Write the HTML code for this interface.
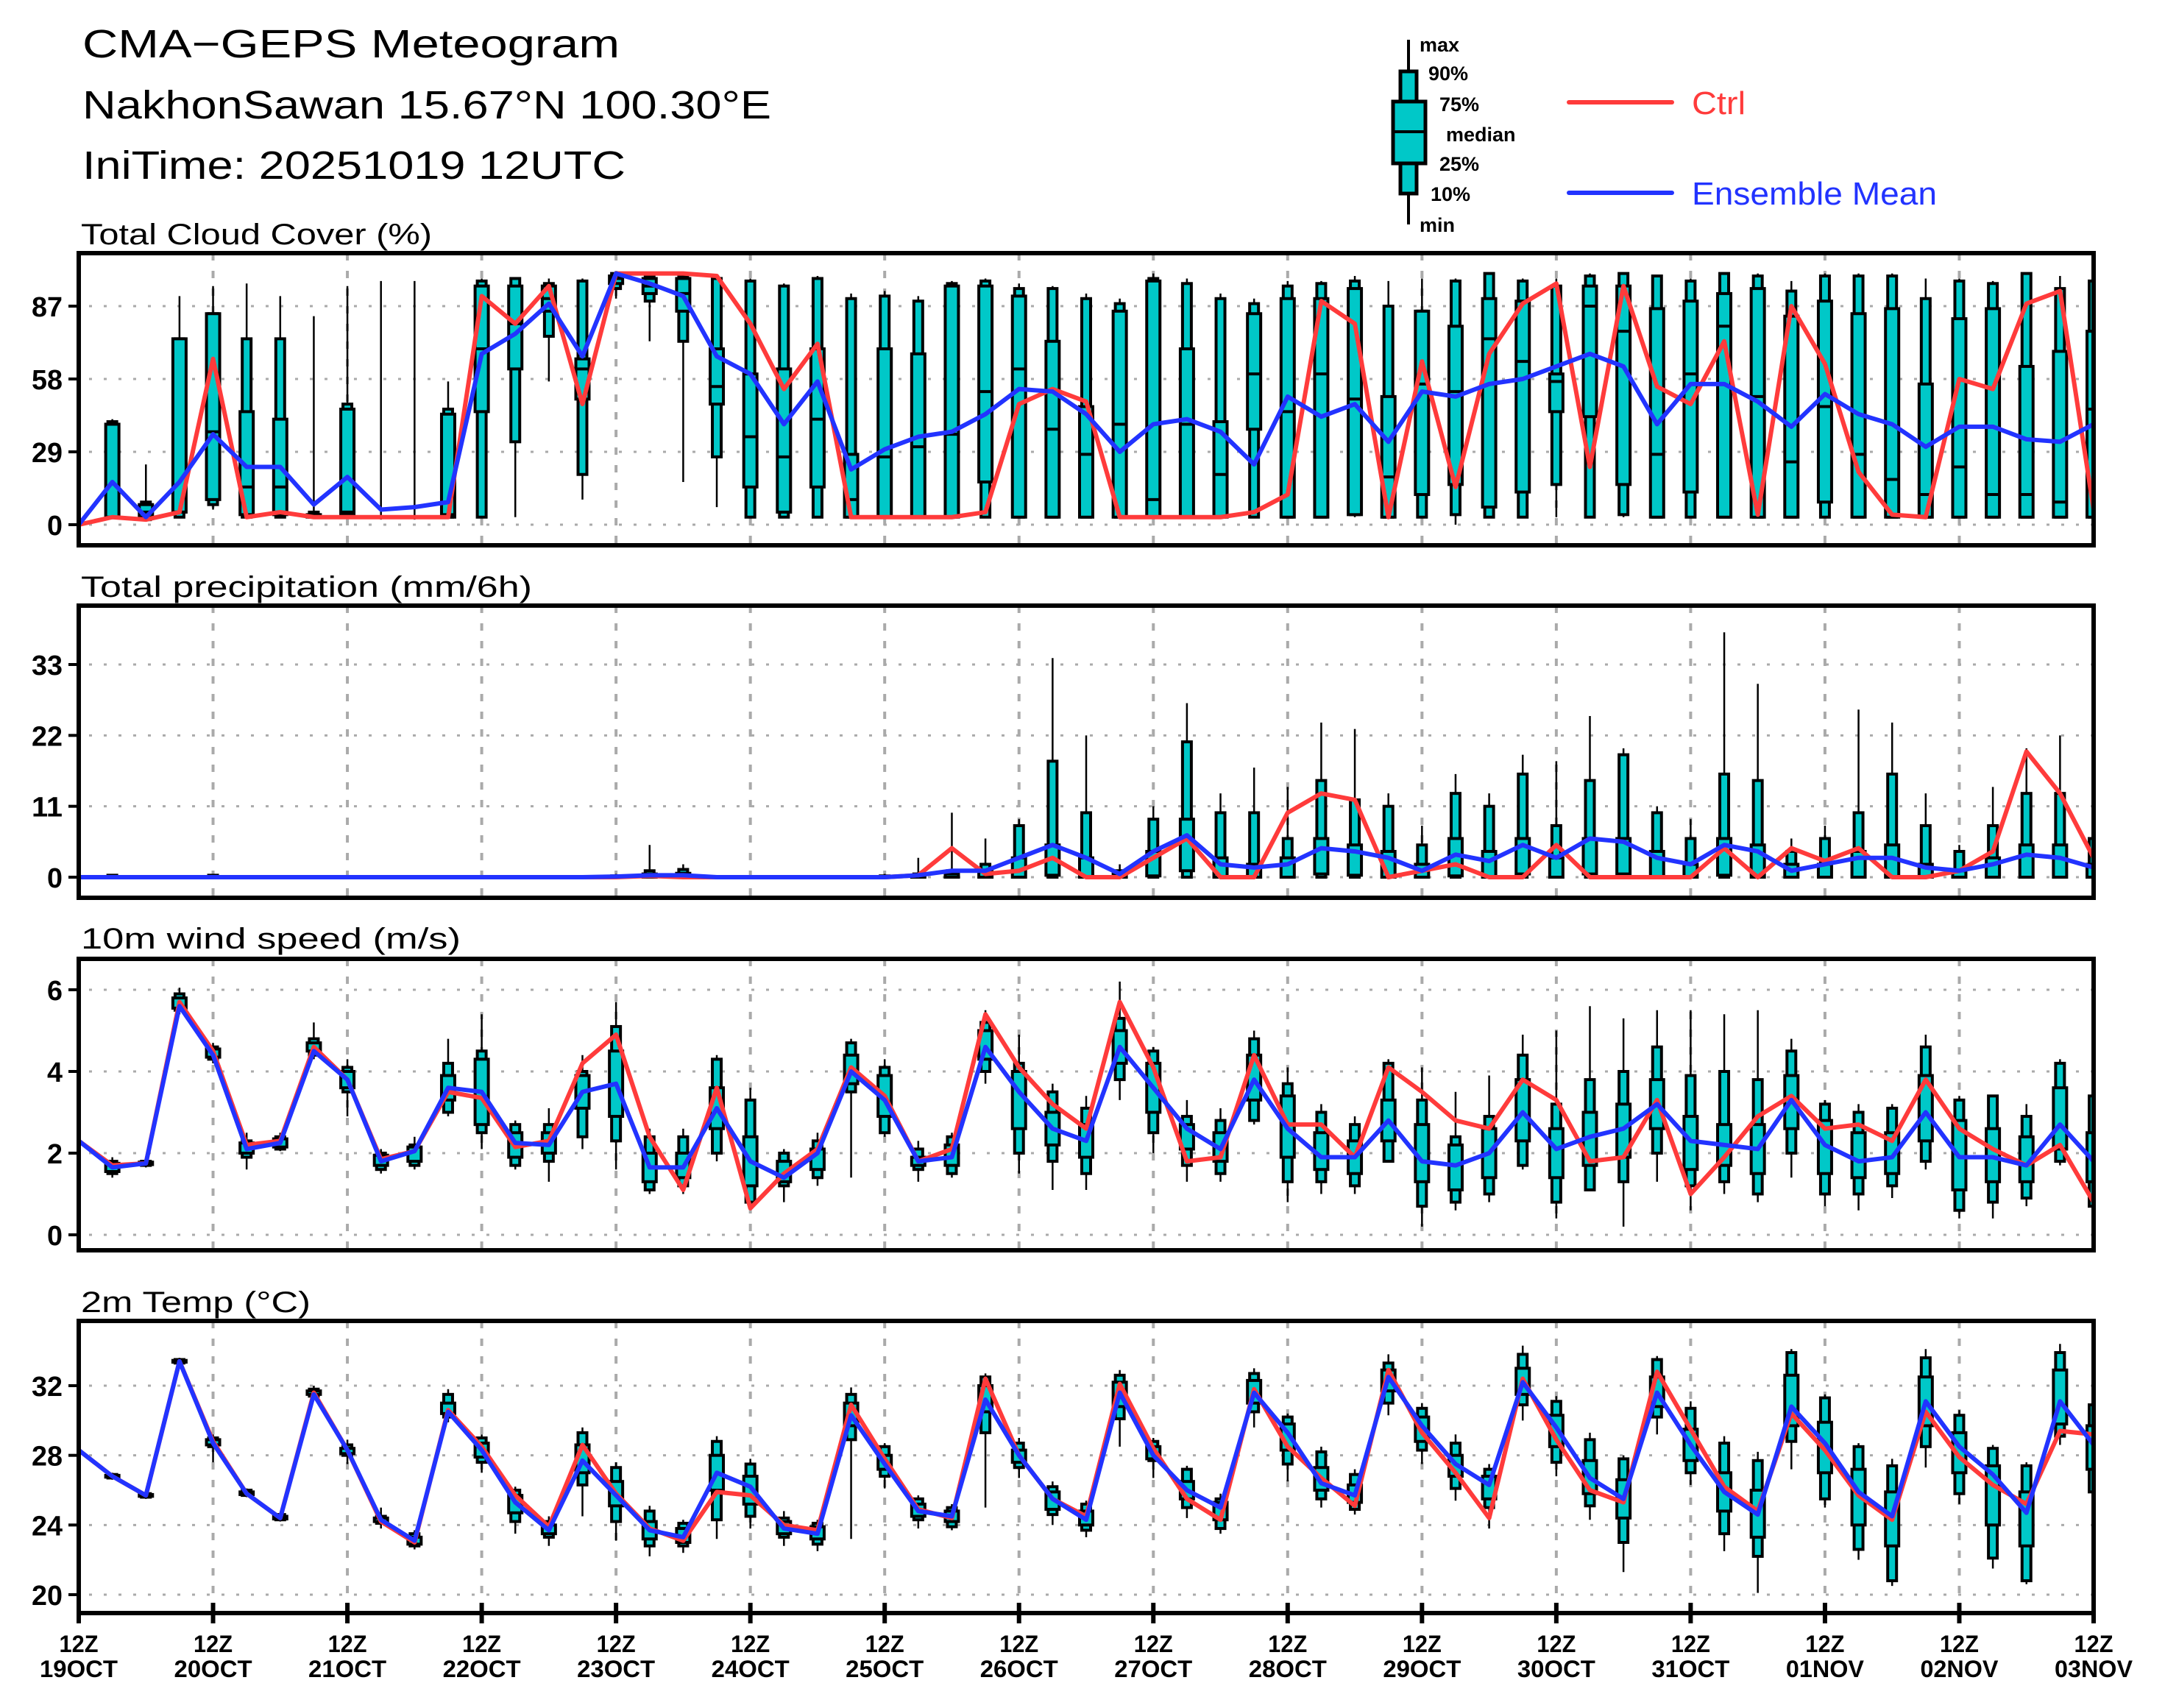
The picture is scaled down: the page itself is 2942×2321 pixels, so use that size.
<!DOCTYPE html>
<html><head><meta charset="utf-8"><title>CMA-GEPS Meteogram</title>
<style>html,body{margin:0;padding:0;background:#fff}svg{display:block}text{font-family:"Liberation Sans",sans-serif}</style>
</head><body>
<svg id="chart" xmlns="http://www.w3.org/2000/svg" width="2942" height="2321" viewBox="0 0 2942 2321">
<rect x="0" y="0" width="2942" height="2321" fill="#fff"/>
<g>
<text x="112" y="78" font-size="54" textLength="730" lengthAdjust="spacingAndGlyphs">CMA−GEPS Meteogram</text>
<text x="112" y="161" font-size="54" textLength="936" lengthAdjust="spacingAndGlyphs">NakhonSawan 15.67°N 100.30°E</text>
<text x="112" y="243" font-size="54" textLength="738" lengthAdjust="spacingAndGlyphs">IniTime: 20251019 12UTC</text>
</g>
<g>
<line x1="1914" y1="54" x2="1914" y2="305" stroke="#000" stroke-width="4"/>
<rect x="1903" y="97" width="22" height="166" fill="#00C8C8" stroke="#000" stroke-width="5"/>
<rect x="1893" y="138" width="44" height="84" fill="#00C8C8" stroke="#000" stroke-width="5"/>
<line x1="1893" y1="179" x2="1937" y2="179" stroke="#000" stroke-width="4"/>
<g font-size="27" font-weight="bold">
<text x="1929" y="70">max</text>
<text x="1941" y="109">90%</text>
<text x="1956" y="151">75%</text>
<text x="1965" y="192">median</text>
<text x="1956" y="232">25%</text>
<text x="1944" y="273">10%</text>
<text x="1929" y="315">min</text>
</g>
<line x1="2132" y1="139" x2="2272" y2="139" stroke="#FF3B3B" stroke-width="6" stroke-linecap="round"/>
<text x="2299" y="155" font-size="44" fill="#FF3B3B" textLength="73" lengthAdjust="spacingAndGlyphs">Ctrl</text>
<line x1="2132" y1="262" x2="2272" y2="262" stroke="#2233FF" stroke-width="6" stroke-linecap="round"/>
<text x="2299" y="278" font-size="44" fill="#2233FF" textLength="333" lengthAdjust="spacingAndGlyphs">Ensemble Mean</text>
</g>
<g id="plots"></g>
</svg>
<script>
const dayLabels = ["19OCT","20OCT","21OCT","22OCT","23OCT","24OCT","25OCT","26OCT","27OCT","28OCT","29OCT","30OCT","31OCT","01NOV","02NOV","03NOV"];

const cloudTicks = [0,29,58,87];
const cloudCtrl = [0,3,2,5,66,3,5,3,3,3,3,3,91,80,95,48,100,100,100,99,80,54,72,3,3,3,3,5,48,54,49,3,3,3,3,5,12,89,80,3,65,15,68,88,96,23,95,55,48,73,4,87,64,21,4,3,58,54,88,93,6];
const cloudMean = [0,17,3,17,36,23,23,8,19,6,7,9,68,76,88,67,100,96,91,67,60,40,57,22,30,35,37,44,54,53,44,29,40,42,37,24,51,43,48,33,53,51,56,58,63,68,63,40,56,56,49,39,52,44,40,31,39,39,34,33,40];
const cloudP10 = [0,3,2,3,8,3,3,3,3,3,3,3,3,33,75,20,94,89,73,27,3,3,3,3,3,3,3,3,3,3,3,3,3,3,3,3,3,3,4,3,3,4,3,3,16,3,4,3,3,3,3,3,3,3,3,3,3,3,3,3,3];
const cloudP25 = [0,3,3,5,10,4,4,3,4,3,3,3,45,62,85,50,96,92,85,48,15,5,15,3,3,3,3,17,3,3,3,3,3,3,3,38,3,3,4,3,12,16,7,13,45,43,16,3,13,3,3,3,9,3,3,3,3,3,3,3,3];
const cloudMed = [0,40,5,5,37,15,15,4,5,3,3,4,70,80,90,62,98,95,92,55,35,27,42,10,27,31,36,53,62,38,28,40,10,40,20,60,45,60,50,19,56,53,74,65,57,87,77,28,60,79,51,25,47,28,18,12,23,12,12,9,46];
const cloudP75 = [0,40,8,74,84,45,42,4,46,3,3,44,95,95,95,66,99,98,98,70,60,62,70,28,70,68,95,95,91,73,47,85,97,70,41,84,90,90,94,51,85,79,90,89,60,95,95,86,89,92,94,83,89,84,86,56,82,86,63,69,77];
const cloudP90 = [0,41,9,74,84,74,74,5,48,3,3,46,97,98,96,97,100,99,99,98,97,95,98,90,91,89,96,97,94,94,90,88,98,96,90,88,95,96,97,87,85,97,100,97,95,99,100,99,97,100,99,93,99,99,99,90,97,96,100,94,97];
const cloudMin = [0,3,2,3,6,3,3,3,3,2,2,3,3,3,57,10,90,73,17,7,3,3,3,3,3,3,3,3,3,3,3,3,3,3,3,3,3,3,3,3,3,0,3,3,3,3,3,3,3,3,3,3,3,3,3,3,3,3,3,3,3];
const cloudMax = [0,42,24,91,95,96,91,83,95,97,97,57,98,98,98,98,100,100,100,99,98,96,99,92,93,91,97,98,96,95,92,90,100,98,92,90,97,97,99,97,98,98,100,98,98,100,100,99,98,100,100,97,100,100,100,98,98,97,100,99,98];

const precTicks = [0,11,22,33];
const precCtrl = [0,0,0,0,0,0,0,0,0,0,0,0,0,0,0,0,0,0.2,0,0,0,0,0,0,0,0.3,4.5,0.5,1,3,0,0,3,6,0,0,10,13,12,0,1,2,0,0,5,0,0,0,0,4.5,0,4.5,2.5,4.5,0,0,1,4,19.5,13,3];
const precMean = [0,0,0,0,0,0,0,0,0,0,0,0,0,0,0,0,0.1,0.3,0.3,0,0,0,0,0,0,0.3,1,1,3,5,3,0.5,4,6.5,2,1.5,2,4.5,4,3,1,3.5,2.5,5,3,6,5.5,3,2,5,4,1,2,3,3,1.5,1,2,3.5,3,1.5];
const precP10 = [0,0,0,0,0,0,0,0,0,0,0,0,0,0,0,0,0,0,0,0,0,0,0,0,0,0,0,0,0,0,0,0,0,0,0,0,0,0,0,0,0,0,0,0,0,0,0,0,0,0,0,0,0,0,0,0,0,0,0,0,0];
const precP25 = [0,0,0,0,0,0,0,0,0,0,0,0,0,0,0,0,0,0,0,0,0,0,0,0,0,0,0,0,0,0.3,0,0,0.2,1,0,0,0,0.5,0.3,0,0,0.2,0,0.5,0,0.5,0.5,0,0,0.3,0,0,0,0,0,0,0,0,0,0,0];
const precP75 = [0,0.1,0,0,0.1,0,0,0,0,0,0,0,0,0,0,0,0.1,0.5,0.6,0,0,0,0,0,0.1,0.2,0.5,1,3,5,3,0.5,4,9,3,2,3,6,5,4,2,6,4,6,3,6,6,4,2,6,5,2,2,4,5,2,1,3,5,5,2];
const precP90 = [0,0.3,0,0,0.3,0,0,0,0,0,0,0,0,0,0,0,0.2,1.0,1.2,0,0,0,0,0,0.2,0.5,1,2,8,18,10,1,9,21,10,10,6,15,12,11,5,13,11,16,8,15,19,10,6,16,15,4,6,10,16,8,4,8,13,13,6];
const precMin = [0,0,0,0,0,0,0,0,0,0,0,0,0,0,0,0,0,0,0,0,0,0,0,0,0,0,0,0,0,0,0,0,0,0,0,0,0,0,0,0,0,0,0,0,0,0,0,0,0,0,0,0,0,0,0,0,0,0,0,0,0];
const precMax = [0,0.5,0,0,0.5,0,0,0,0,0,0,0,0,0,0,0,0.5,5,2,0,0,0,0,0,0.5,3,10,6,9,34,22,2,11,27,13,17,14,24,23,13,8,16,13,19,18,25,20,11,9,38,30,6,8,26,24,13,5,14,20,22,6];

const windTicks = [0,2,4,6];
const windCtrl = [2.3,1.7,1.75,5.7,4.5,2.2,2.3,4.6,3.8,1.85,2.05,3.5,3.35,2.15,2.3,4.2,4.9,2.4,1.1,3.6,0.65,1.5,2.1,4.1,3.4,1.8,2.1,5.4,4.1,3.2,2.6,5.7,4.1,1.8,1.9,4.4,2.7,2.7,1.9,4.1,3.5,2.8,2.6,3.8,3.3,1.8,1.9,3.3,1.0,1.9,2.9,3.4,2.6,2.7,2.3,3.8,2.6,2.1,1.7,2.2,0.8];
const windMean = [2.3,1.65,1.75,5.6,4.4,2.1,2.25,4.5,3.8,1.8,2.05,3.6,3.5,2.25,2.2,3.5,3.7,1.65,1.65,3.1,1.8,1.4,2.0,4.0,3.3,1.8,1.9,4.6,3.5,2.6,2.3,4.6,3.6,2.6,2.1,3.8,2.6,1.9,1.9,2.8,1.8,1.7,2.0,3.0,2.1,2.4,2.6,3.2,2.3,2.2,2.1,3.3,2.2,1.8,1.9,3.0,1.9,1.9,1.7,2.7,1.8];
const windP10 = [2.3,1.5,1.7,5.5,4.3,1.9,2.1,4.4,3.5,1.6,1.7,3.0,2.5,1.7,1.8,2.4,2.3,1.1,1.2,2.0,0.8,1.2,1.4,3.5,2.5,1.6,1.5,4.0,2.0,1.8,1.5,3.8,2.5,1.7,1.5,2.8,1.3,1.3,1.2,1.8,0.7,0.8,1.0,1.7,0.8,1.1,1.3,2.0,1.2,1.3,1.0,2.0,1.0,1.0,1.2,1.8,0.6,0.8,0.9,1.8,0.7];
const windP25 = [2.3,1.55,1.72,5.55,4.35,2.0,2.15,4.5,3.6,1.7,1.8,3.3,2.7,1.9,2.0,3.1,2.9,1.3,1.4,2.6,1.2,1.3,1.6,3.7,2.9,1.7,1.7,4.3,2.6,2.2,1.9,4.2,3.0,2.1,1.8,3.3,1.9,1.6,1.5,2.3,1.3,1.1,1.4,2.3,1.4,1.7,1.9,2.6,1.6,1.7,1.5,2.6,1.5,1.4,1.5,2.3,1.1,1.3,1.3,2.1,1.3];
const windP75 = [2.3,1.75,1.78,5.8,4.55,2.25,2.35,4.7,4.0,1.95,2.15,3.9,4.3,2.5,2.5,3.9,4.5,2.0,2.0,3.6,2.4,1.8,2.1,4.4,3.9,1.9,2.2,5.0,4.0,3.0,2.7,5.0,4.2,2.7,2.5,4.4,3.4,2.5,2.3,3.3,2.7,2.2,2.6,3.8,2.6,3.0,3.2,3.8,2.9,2.7,2.7,3.9,2.8,2.5,2.5,3.9,2.8,2.6,2.4,3.6,2.5];
const windP90 = [2.3,1.8,1.8,5.9,4.6,2.3,2.4,4.8,4.1,2.0,2.2,4.2,4.5,2.7,2.7,4.0,5.1,2.4,2.4,4.3,3.3,2.0,2.3,4.7,4.1,2.1,2.4,5.2,4.2,3.5,3.1,5.3,4.5,2.9,2.8,4.8,3.7,3.0,2.7,4.2,3.3,2.4,2.9,4.4,3.2,3.8,4.0,4.6,3.9,4.0,3.8,4.5,3.2,3.0,3.1,4.6,3.3,3.4,2.9,4.2,3.4];
const windMin = [2.3,1.4,1.65,5.4,4.2,1.6,2.05,4.3,2.9,1.5,1.6,2.9,2.1,1.6,1.3,2.1,1.6,1.0,1.0,1.8,0.7,0.8,1.2,1.4,2.4,1.3,1.4,3.7,1.5,1.1,1.1,3.3,2.0,1.3,1.3,2.7,0.8,1.0,1.0,1.8,0.2,0.6,0.8,1.6,0.4,1.1,0.2,1.3,0.6,1.0,0.8,1.4,0.7,0.6,0.9,1.6,0.4,0.4,0.7,1.7,0.6];
const windMax = [2.3,1.9,1.85,6.05,4.7,2.5,2.5,5.2,4.3,2.1,2.4,4.8,5.4,2.8,3.1,4.4,5.7,2.6,2.6,4.4,3.6,2.1,2.5,4.8,4.3,2.3,2.5,5.5,4.9,3.7,3.4,6.2,4.6,3.3,3.1,5.0,4.1,3.2,2.9,4.3,4.1,3.5,3.9,4.9,5.0,5.6,5.3,5.5,5.5,5.4,5.5,4.8,3.3,3.2,3.2,4.9,3.4,3.4,3.2,4.3,3.4];

const tempTicks = [20,24,28,32];
const tempCtrl = [28.3,26.8,25.7,33.4,28.8,25.8,24.4,31.6,28.3,24.2,23.0,30.6,28.5,25.7,23.9,28.6,25.8,23.8,23.1,25.9,25.7,24.0,23.7,30.9,27.8,24.9,24.4,32.4,28.0,25.5,24.5,32.1,28.4,25.5,24.3,31.8,28.5,26.7,25.1,32.9,29.3,27.0,24.4,32.4,28.9,26.0,25.3,32.8,29.5,26.2,24.8,30.4,28.3,25.7,24.3,30.5,27.9,26.3,25.2,29.4,29.2];
const tempMean = [28.3,26.8,25.7,33.4,28.7,25.8,24.4,31.5,28.3,24.3,23.1,30.5,28.3,25.3,23.7,27.7,25.7,23.7,23.3,27.0,26.2,23.8,23.5,30.3,27.5,24.8,24.5,31.2,28.0,25.5,24.3,31.6,28.0,26.0,25.0,31.6,29.3,26.4,25.7,32.5,29.7,27.5,26.3,32.2,29.6,26.7,25.5,31.6,28.6,25.9,24.6,30.8,28.7,25.9,24.5,31.1,28.5,26.9,24.7,31.1,28.6];
const tempP10 = [28.3,26.7,25.6,33.3,28.5,25.7,24.3,31.4,28.0,24.1,22.8,30.2,27.6,24.2,23.3,26.3,24.2,22.8,22.8,24.3,24.5,23.3,22.9,28.9,26.8,24.3,23.9,29.3,27.3,24.6,23.7,30.1,27.7,25.0,23.8,30.5,27.5,25.5,24.9,31.0,28.3,26.1,25.0,30.9,27.6,25.1,23.0,30.2,27.0,23.5,22.2,28.8,25.5,22.6,20.8,28.5,25.8,22.1,20.8,29.1,25.9];
const tempP25 = [28.3,26.75,25.65,33.35,28.6,25.75,24.35,31.5,28.1,24.2,22.9,30.4,27.9,24.7,23.5,27.0,25.1,23.2,23.0,26.0,25.2,23.5,23.2,29.7,27.2,24.5,24.2,30.5,27.6,24.9,24.0,30.8,27.8,25.5,24.3,31.0,28.3,26.0,25.3,31.7,28.8,26.8,25.5,31.5,28.5,25.8,24.4,30.8,27.7,24.8,23.3,29.7,27.0,24.0,22.8,29.7,27.0,24.0,22.8,29.8,27.2];
const tempP75 = [28.3,26.85,25.75,33.45,28.9,25.9,24.5,31.7,28.4,24.4,23.3,31.0,28.7,25.7,24.0,28.6,26.5,24.2,23.8,28.0,26.8,24.2,23.9,31.0,28.0,25.2,24.8,32.0,28.3,25.9,24.8,32.2,28.5,26.5,25.3,32.3,29.8,27.3,26.3,32.9,30.2,28.0,26.8,33.0,30.3,27.7,26.6,32.5,29.5,27.0,26.0,32.6,29.9,27.2,25.9,32.5,29.3,27.4,25.9,32.9,29.7];
const tempP90 = [28.3,26.9,25.8,33.5,29.0,26.0,24.6,31.8,28.6,24.5,23.5,31.5,29.0,26.0,24.2,29.3,27.3,24.8,24.1,28.8,27.5,24.4,24.1,31.5,28.5,25.5,25.0,32.5,28.7,26.2,25.2,32.6,28.8,27.2,25.5,32.7,30.2,28.2,26.9,33.3,30.7,28.7,27.2,33.8,31.1,28.9,27.8,33.5,30.7,28.7,27.7,33.9,31.3,28.5,27.4,33.6,30.3,28.4,27.4,33.9,30.9];
const tempMin = [28.3,26.6,25.5,33.2,27.6,25.6,24.2,31.2,27.5,23.8,22.6,29.9,27.0,23.5,22.8,24.5,23.1,22.2,22.4,23.2,23.8,22.8,22.5,23.2,26.1,23.8,23.7,25.0,26.7,24.0,23.3,28.5,26.7,24.4,23.5,29.6,26.5,25.0,24.6,30.3,27.5,25.4,23.8,30.0,26.8,24.3,21.3,29.2,26.3,22.5,20.1,27.2,25.0,22.0,20.5,27.3,25.2,21.5,20.6,28.6,25.8];
const tempMax = [28.3,27.0,25.9,33.6,29.2,26.1,24.7,32.0,28.9,25.0,23.7,31.8,29.2,26.2,24.5,29.6,27.6,25.1,24.3,29.1,27.8,24.8,24.3,31.9,28.7,25.7,25.2,32.7,29.0,26.5,25.4,32.9,29.0,27.4,25.8,33.0,30.4,28.5,27.2,33.8,31.0,29.2,27.5,34.3,31.4,29.3,28.0,33.7,31.1,29.1,28.2,34.1,31.5,28.7,27.8,34.1,30.6,28.6,27.6,34.4,31.1];

const NS = "http://www.w3.org/2000/svg";
const X0 = 107, X1 = 2845, NSTEP = 60;
function xPos(i){ return X0 + (X1 - X0) * i / NSTEP; }
function mk(tag, attrs, parent){
  const e = document.createElementNS(NS, tag);
  for (const k in attrs) e.setAttribute(k, attrs[k]);
  parent.appendChild(e);
  return e;
}
const root = document.getElementById('plots');

const panels = [
  {key:'cloud', title:'Total Cloud Cover (%)', tl:477, tb:332, top:344, bot:741, v0:0, y0:713, v1:87, y1:416, ticks:cloudTicks,
   ctrl:cloudCtrl, mean:cloudMean, p10:cloudP10, p25:cloudP25, med:cloudMed, p75:cloudP75, p90:cloudP90, mn:cloudMin, mx:cloudMax, boxFrom:1},
  {key:'precip', title:'Total precipitation (mm/6h)', tl:613, tb:811, top:823, bot:1220, v0:0, y0:1192, v1:33, y1:903, ticks:precTicks,
   ctrl:precCtrl, mean:precMean, p10:precP10, p25:precP25, med:null, p75:precP75, p90:precP90, mn:precMin, mx:precMax, boxFrom:1},
  {key:'wind', title:'10m wind speed (m/s)', tl:516, tb:1289, top:1303, bot:1699, v0:0, y0:1678, v1:6, y1:1345, ticks:windTicks,
   ctrl:windCtrl, mean:windMean, p10:windP10, p25:windP25, med:null, p75:windP75, p90:windP90, mn:windMin, mx:windMax, boxFrom:1},
  {key:'temp', title:'2m Temp (°C)', tl:312, tb:1783, top:1795, bot:2192, v0:20, y0:2167, v1:32, y1:1883, ticks:tempTicks,
   ctrl:tempCtrl, mean:tempMean, p10:tempP10, p25:tempP25, med:null, p75:tempP75, p90:tempP90, mn:tempMin, mx:tempMax, boxFrom:1}
];

panels.forEach(function(p){
  const yScale = function(v){ return p.y0 + (v - p.v0) * (p.y1 - p.y0) / (p.v1 - p.v0); };
  const g = mk('g', {}, root);
  
  

  const t = mk('text', {x:110, y:p.tb, 'font-size':40, textLength:p.tl, lengthAdjust:'spacingAndGlyphs'}, g);
  t.textContent = p.title;
  
  

  for (let d = 1; d < 15; d++) {
    const gx = xPos(d * 4);
    const vl = mk('line', {x1:gx, y1:p.top, x2:gx, y2:p.bot, stroke:'#aaaaaa', 'stroke-width':4, 'stroke-dasharray':'10,14'}, g);
    
    
  }
  p.ticks.forEach(function(v){
    const ty = yScale(v);
    const hl = mk('line', {x1:X0 + 14, y1:ty, x2:X1, y2:ty, stroke:'#aaaaaa', 'stroke-width':3, 'stroke-dasharray':'4,16'}, g);
    
    
    const tk = mk('line', {x1:X0 - 14, y1:ty, x2:X0, y2:ty, stroke:'#000', 'stroke-width':4}, g);
    
    
    const s = String(v);
    const lb = mk('text', {x:85, y:ty + 14, 'font-size':38, 'font-weight':'bold', 'text-anchor':'end', textLength:(s.length * 21), lengthAdjust:'spacingAndGlyphs'}, g);
    lb.textContent = s;
    
    
  });

  const cid = 'clip-' + p.key;
  const cp = mk('clipPath', {id:cid}, g);
  mk('rect', {x:X0, y:p.top, width:X1 - X0, height:p.bot - p.top}, cp);
  const marks = mk('g', {'clip-path':'url(#' + cid + ')'}, g);

  for (let i = p.boxFrom; i < p.ctrl.length; i++) {
    const bx = xPos(i);
    const bg = mk('g', {}, marks);
    
    
    mk('line', {x1:bx, y1:yScale(p.mx[i]), x2:bx, y2:yScale(p.mn[i]), stroke:'#000', 'stroke-width':2.5}, bg);
    const a = yScale(p.p90[i]), b = yScale(p.p10[i]);
    mk('rect', {x:bx - 6, y:Math.min(a,b), width:12, height:Math.abs(b - a), fill:'#00C8C8', stroke:'#000', 'stroke-width':4}, bg);
    const c = yScale(p.p75[i]), d = yScale(p.p25[i]);
    mk('rect', {x:bx - 9, y:Math.min(c,d), width:18, height:Math.abs(d - c), fill:'#00C8C8', stroke:'#000', 'stroke-width':4}, bg);
    if (p.med) {
      const m = yScale(p.med[i]);
      mk('line', {x1:bx - 9, y1:m, x2:bx + 9, y2:m, stroke:'#000', 'stroke-width':4}, bg);
    }
  }
  const ptsC = p.ctrl.map(function(v,i){ return xPos(i) + ',' + yScale(v); }).join(' ');
  const lc = mk('polyline', {points:ptsC, fill:'none', stroke:'#FF3B3B', 'stroke-width':6, 'stroke-linejoin':'round'}, marks);
  
  
  const ptsM = p.mean.map(function(v,i){ return xPos(i) + ',' + yScale(v); }).join(' ');
  const lm = mk('polyline', {points:ptsM, fill:'none', stroke:'#2233FF', 'stroke-width':6, 'stroke-linejoin':'round'}, marks);
  
  

  const fr = mk('rect', {x:X0, y:p.top, width:X1 - X0, height:p.bot - p.top, fill:'none', stroke:'#000', 'stroke-width':6}, g);
  
  
});

const xg = mk('g', {}, root);


dayLabels.forEach(function(lbl, d){
  const tx = xPos(d * 4);
  const tk = mk('line', {x1:tx, y1:2178, x2:tx, y2:2206, stroke:'#000', 'stroke-width':6}, xg);
  
  
  const t1 = mk('text', {x:tx, y:2245, 'font-size':32, 'font-weight':'bold', 'text-anchor':'middle', textLength:53, lengthAdjust:'spacingAndGlyphs'}, xg);
  t1.textContent = '12Z';
  
  
  const t2 = mk('text', {x:tx, y:2279, 'font-size':32, 'font-weight':'bold', 'text-anchor':'middle', textLength:106, lengthAdjust:'spacingAndGlyphs'}, xg);
  t2.textContent = lbl;
  
  
});
</script>
</body></html>
